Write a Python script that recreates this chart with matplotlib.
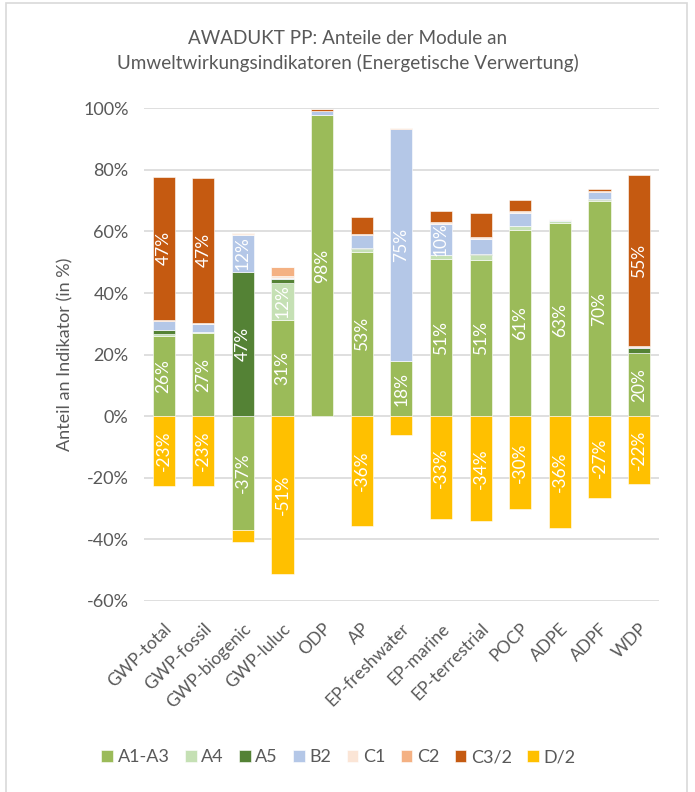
import numpy as np
import matplotlib.pyplot as plt
from matplotlib.patches import Rectangle

plt.rcParams['font.family'] = ['Lato', 'DejaVu Sans']

categories = ["GWP-total", "GWP-fossil", "GWP-biogenic", "GWP-luluc", "ODP", "AP",
              "EP-freshwater", "EP-marine", "EP-terrestrial", "POCP", "ADPE", "ADPF", "WDP"]

# module shares in %
a1a3 = [26.2, 27.0, -37.0, 31.4, 97.7, 53.4, 17.9, 50.9, 50.8, 60.6, 62.8, 69.8, 20.4]
a4 = [0.5, 0.3, 0.0, 11.9, 0.0, 1.0, 0.0, 1.3, 1.5, 1.1, 0.5, 0.5, 0.0]
a5 = [1.2, 0.0, 46.9, 1.1, 0.0, 0.3, 0.0, 0.3, 0.5, 0.0, 0.0, 0.2, 1.6]
b2 = [3.0, 2.8, 12.1, 0.5, 1.5, 4.0, 75.3, 10.0, 4.8, 4.3, 0.5, 2.2, 0.5]
c1 = [0.1, 0.1, 0.2, 0.5, 0.0, 0.2, 0.1, 0.2, 0.2, 0.2, 0.1, 0.2, 0.1]
c2 = [0.2, 0.2, 0.4, 3.2, 0.0, 0.3, 0.4, 0.3, 0.3, 0.3, 0.3, 0.3, 0.2]
c3 = [46.6, 47.0, 0.0, 0.0, 0.7, 5.4, 0.0, 3.8, 7.9, 3.6, 0.0, 0.6, 55.4]
d2 = [-22.6, -22.6, -3.7, -51.3, 0.0, -35.7, -6.2, -33.3, -33.9, -30.0, -36.2, -26.7, -22.0]

modules = ["A1-A3", "A4", "A5", "B2", "C1", "C2", "C3/2", "D/2"]
series = [a1a3, a4, a5, b2, c1, c2, c3, d2]
colors = ["#9BBB59", "#C5E0B4", "#548235", "#B4C7E7", "#FBE5D6", "#F4B183", "#C55A11", "#FFC000"]

grey = "#595959"

fig = plt.figure(figsize=(6.95, 7.92), dpi=100)
ax = fig.add_axes([0.207, 0.2412, 0.741, 0.6221])

x = np.arange(len(categories))
pos_base = np.zeros(len(categories))
neg_base = np.zeros(len(categories))
handles = []
for name, vals, col in zip(modules, series, colors):
    vals = np.array(vals)
    bottom = np.where(vals >= 0, pos_base, neg_base)
    h = ax.bar(x, vals, 0.56, bottom=bottom, color=col, edgecolor="white",
               linewidth=0.4, label=name, zorder=3)
    handles.append(h)
    for xi, v, b in zip(x, vals, bottom):
        if abs(v) >= 9.5:
            ax.text(xi, b + v / 2, f"{v:.0f}%", rotation=90, ha="center", va="center",
                    color="white", fontsize=12.5, zorder=4)
    pos_base = pos_base + np.where(vals >= 0, vals, 0)
    neg_base = neg_base + np.where(vals < 0, vals, 0)

ax.set_xlim(-0.5, len(categories) - 0.5)
ax.set_ylim(-60, 100)
ax.set_yticks(np.arange(-60, 101, 20))
ax.set_yticklabels([f"{v}%" for v in range(-60, 101, 20)], fontsize=13, color=grey)
ax.set_xticks(x)
ax.set_xticklabels(categories, rotation=45, ha="right", rotation_mode="anchor",
                   fontsize=12.5, color=grey)
ax.tick_params(axis="both", length=0)
ax.tick_params(axis="x", pad=14)
ax.tick_params(axis="y", pad=11)
for s in ax.spines.values():
    s.set_visible(False)
ax.yaxis.grid(True, color="#D9D9D9", linewidth=1.2, zorder=0)
ax.set_axisbelow(True)
ax.set_ylabel("Anteil an Indikator (in %)", fontsize=13, color=grey, labelpad=7)

fig.text(0.5, 0.952, "AWADUKT PP: Anteile der Module an", ha="center", va="center",
         fontsize=13.6, color=grey)
fig.text(0.5, 0.920, "Umweltwirkungsindikatoren (Energetische Verwertung)", ha="center",
         va="center", fontsize=13.6, color=grey)

fig.legend(handles=handles, labels=modules, loc="center", bbox_to_anchor=(0.487, 0.044),
           ncol=8, frameon=False, fontsize=13, handlelength=0.65, handleheight=0.65,
           handletextpad=0.25, columnspacing=0.85, labelcolor=grey)

fig.patches.append(Rectangle((0.009, -0.01), 0.98, 1.006, transform=fig.transFigure,
                             fill=False, edgecolor="#D9D9D9", linewidth=1.2))

fig.savefig("out.png", dpi=100, facecolor="white")
